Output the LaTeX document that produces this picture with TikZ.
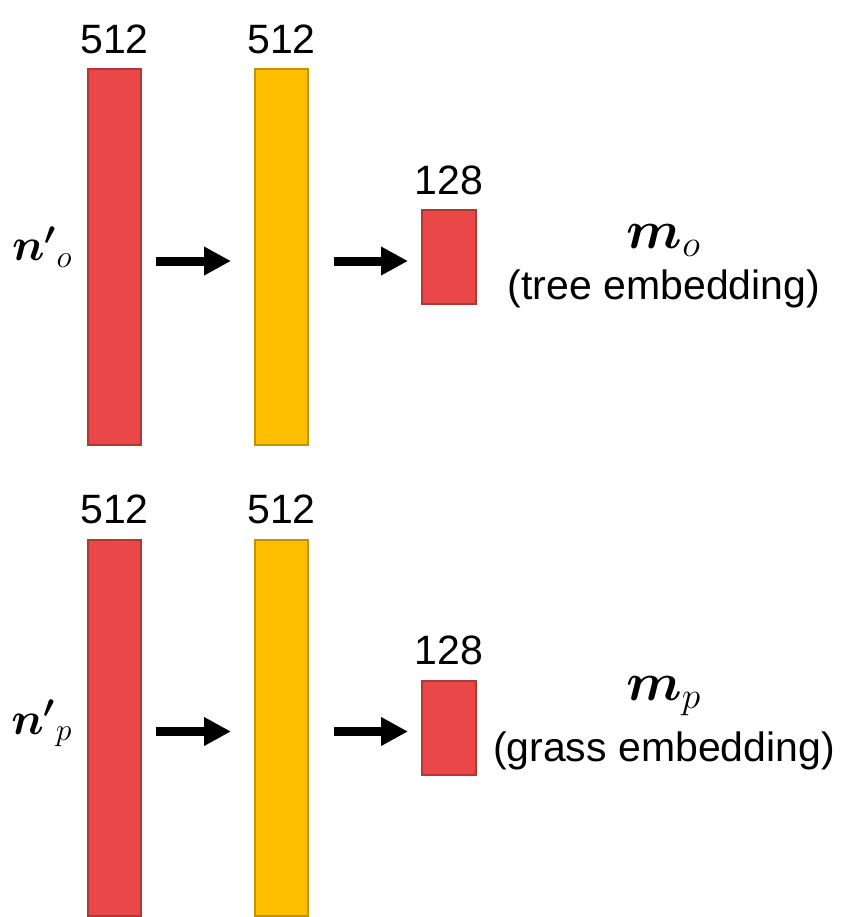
\documentclass[tikz,border=0pt]{standalone}
\usepackage{amsmath}
\usepackage{fontspec}
\setmainfont{Liberation Sans}
\usetikzlibrary{positioning,arrows.meta}
\definecolor{layerred}{HTML}{EA4848}
\definecolor{edgered}{HTML}{B23838}
\definecolor{layeryellow}{HTML}{FFBF00}
\definecolor{edgeyellow}{HTML}{C29200}
\newcommand{\embsym}[1]{\scalebox{1.3}{$\boldsymbol{m}_{#1}$}}
\begin{document}
\begin{tikzpicture}[x=0.5pt,y=-0.5pt,
    every node/.style={font=\fontsize{20.5}{23.5}\selectfont},
    redlayer/.style={draw=edgered, fill=layerred, line width=1pt, inner sep=0pt,
      minimum width=26.5pt, minimum height=188pt},
    yellowlayer/.style={redlayer, draw=edgeyellow, fill=layeryellow},
    outlayer/.style={redlayer, minimum width=27pt, minimum height=47pt},
    size/.style={inner sep=0pt, above=7pt of #1},
    flow/.style={line width=4.5pt, -{Triangle[length=13.5pt,width=13.5pt]}}]
  \useasboundingbox (0,0) rectangle (864,917);

  % upper branch
  \node [redlayer] (in1) at (114.5,257) {};
  \node [yellowlayer, right=56pt of in1] (hid1) {};
  \node [outlayer, right=56pt of hid1] (out1) {};
  \node [size=in1] {512};
  \node [size=hid1] {512};
  \node [size=out1] {128};
  \node [left=7pt of in1, yshift=5pt, inner sep=0pt, scale=1.1] (lin1) {$\boldsymbol{n'}_{o}$};
  \node [align=center] (emb1) at (664,266) {\embsym{o}\\[2pt](tree embedding)};
  \draw [flow, shorten <=7pt, shorten >=11.5pt] ([yshift=-2pt]in1.east) -- ([yshift=-2pt]hid1.west);
  \draw [flow, shorten <=12.5pt, shorten >=6.5pt] ([yshift=-2pt]hid1.east) -- ([yshift=-2pt]out1.west);

  % lower branch
  \node [redlayer] (in2) at (114.5,727.5) {};
  \node [yellowlayer, right=56pt of in2] (hid2) {};
  \node [outlayer, right=56pt of hid2] (out2) {};
  \node [size=in2] {512};
  \node [size=hid2] {512};
  \node [size=out2] {128};
  \node [left=7pt of in2, yshift=2pt, inner sep=0pt, scale=1.1] (lin2) {$\boldsymbol{n'}_{p}$};
  \node [align=center] (emb2) at (664,723) {\embsym{p}\\[7pt](grass embedding)};
  \draw [flow, shorten <=7pt, shorten >=11.5pt] ([yshift=-2pt]in2.east) -- ([yshift=-2pt]hid2.west);
  \draw [flow, shorten <=12.5pt, shorten >=6.5pt] ([yshift=-2pt]hid2.east) -- ([yshift=-2pt]out2.west);
\end{tikzpicture}
\end{document}
